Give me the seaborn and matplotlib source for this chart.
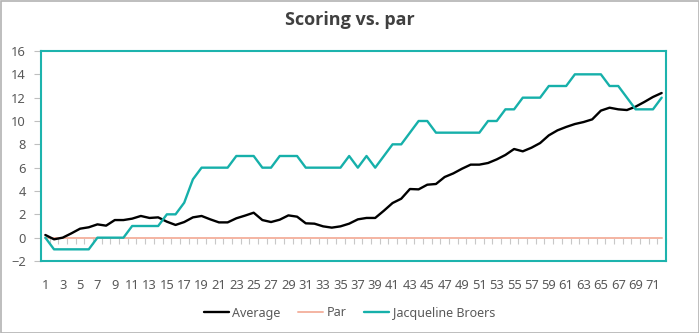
import numpy as np
import pandas as pd
import matplotlib
matplotlib.use("Agg")
import matplotlib.pyplot as plt
from matplotlib.patches import Rectangle
from matplotlib.lines import Line2D
import seaborn as sns

# Holes played
holes = list(range(1, 73))

# Cumulative score relative to par
average = [0.23, -0.14, 0.0, 0.37, 0.77, 0.89, 1.14, 1.03, 1.51, 1.51,
           1.63, 1.86, 1.69, 1.74, 1.37, 1.09, 1.34, 1.74, 1.86, 1.57,
           1.31, 1.31, 1.66, 1.89, 2.14, 1.51, 1.34, 1.54, 1.91, 1.80,
           1.23, 1.20, 0.97, 0.86, 0.97, 1.20, 1.57, 1.69, 1.69, 2.31,
           2.97, 3.34, 4.17, 4.14, 4.54, 4.60, 5.20, 5.51, 5.91, 6.26,
           6.26, 6.40, 6.71, 7.09, 7.60, 7.40, 7.71, 8.11, 8.77, 9.20,
           9.49, 9.74, 9.91, 10.14, 10.89, 11.14, 11.00, 10.94, 11.23, 11.63,
           12.06, 12.40]
par = [0] * 72
jacqueline = [0, -1, -1, -1, -1, -1, 0, 0, 0, 0,
              1, 1, 1, 1, 2, 2, 3, 5, 6, 6,
              6, 6, 7, 7, 7, 6, 6, 7, 7, 7,
              6, 6, 6, 6, 6, 7, 6, 7, 6, 7,
              8, 8, 9, 10, 10, 9, 9, 9, 9, 9,
              9, 10, 10, 11, 11, 12, 12, 12, 13, 13,
              13, 14, 14, 14, 14, 13, 13, 12, 11, 11,
              11, 12]

series_names = ["Average", "Par", "Jacqueline Broers"]
colors = {"Average": "#000000", "Par": "#f4b4a2", "Jacqueline Broers": "#16b0aa"}
widths = {"Average": 1.7, "Par": 1.4, "Jacqueline Broers": 1.7}

df = pd.DataFrame({
    "Hole": holes * 3,
    "Score": average + par + jacqueline,
    "Series": ["Average"] * 72 + ["Par"] * 72 + ["Jacqueline Broers"] * 72,
})

sns.set_theme(style="white")
plt.rcParams["font.family"] = ["Noto Sans", "DejaVu Sans"]

fig = plt.figure(figsize=(6.99, 3.33), dpi=100)
ax = fig.add_axes([41 / 699, 72 / 333, 625 / 699, 210 / 333])

# Draw Par first so the other series sit on top of it
for name in ["Par", "Average", "Jacqueline Broers"]:
    sns.lineplot(data=df[df["Series"] == name], x="Hole", y="Score",
                 color=colors[name], linewidth=widths[name], ax=ax,
                 legend=False, zorder=3 if name != "Par" else 2)

ymin, ymax = -2, 16
ax.set_xlim(0.5, 72.5)
ax.set_ylim(ymin, ymax)
ax.set_xlabel("")
ax.set_ylabel("")

ax.set_yticks(range(-2, 17, 2))
ax.set_xticks(range(1, 73, 2))
ax.tick_params(axis="x", length=0, pad=13, labelsize=9.3, labelcolor="#595959")
ax.tick_params(axis="y", length=5, width=0.8, color="#bfbfbf", pad=6,
               labelsize=9.3, labelcolor="#595959", left=True)

for sp in ax.spines.values():
    sp.set_color("#1db3ad")
    sp.set_linewidth(1.5)

# Category boundary ticks along the zero line
zero_frac = (0 - ymin) / (ymax - ymin)
sec = ax.secondary_xaxis(zero_frac)
sec.set_xticks(np.arange(0.5, 73, 1))
sec.tick_params(axis="x", direction="out", length=4.5, width=0.8,
                color="#c8c8c8", labelbottom=False, labeltop=False)
for sp in sec.spines.values():
    sp.set_visible(False)

fig.text(0.5, 1 - 20 / 333, "Scoring vs. par", ha="center", va="center",
         fontsize=13, fontweight="bold", color="#404040",
         family=["Open Sans", "DejaVu Sans"])

handles = [Line2D([0], [0], color=colors[n], linewidth=widths[n]) for n in series_names]
fig.legend(handles, series_names, loc="center", bbox_to_anchor=(0.5, 20 / 333),
           ncol=3, frameon=False, fontsize=9, handlelength=2.0,
           handletextpad=0.3, columnspacing=1.4, labelcolor="#595959")

fig.add_artist(Rectangle((0.5 / 699, 0.5 / 333), 1 - 1 / 699, 1 - 1 / 333,
                         transform=fig.transFigure, fill=False,
                         edgecolor="#b3b3b3", linewidth=1.2))

fig.savefig("out.png", dpi=100, facecolor="white")
